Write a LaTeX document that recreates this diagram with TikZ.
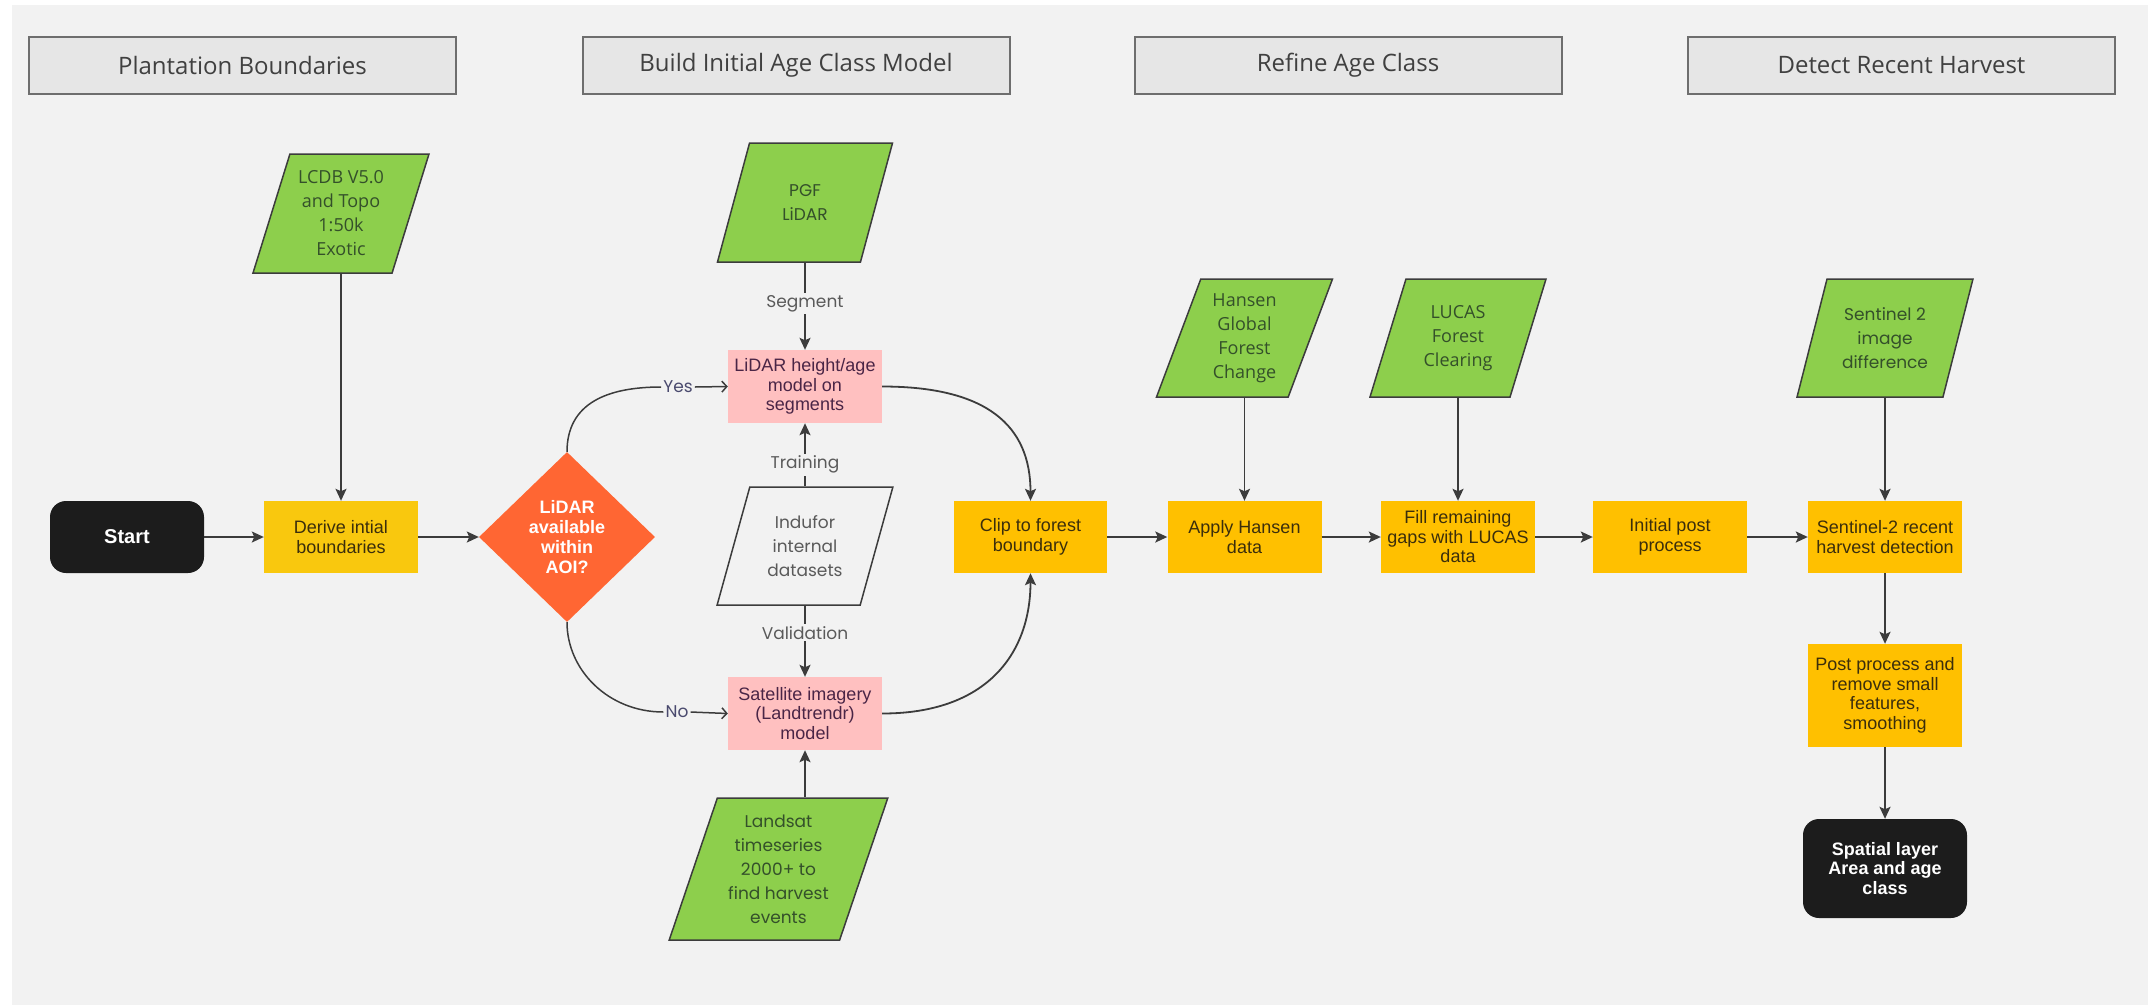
\documentclass[tikz,border=0pt]{standalone}
\usepackage{fontspec}
\setmainfont{Liberation Sans}
\newfontfamily\hdrfont{Open Sans}
\newfontfamily\datafont{Poppins}
\usepackage{tikz}
\usetikzlibrary{shapes.geometric,arrows.meta}
\definecolor{bggray}{HTML}{F2F2F2}
\definecolor{hdrfill}{HTML}{E6E6E6}
\definecolor{hdrline}{HTML}{6E6E6E}
\definecolor{hdrtext}{HTML}{404040}
\definecolor{procfill}{HTML}{FFC000}
\definecolor{derivefill}{HTML}{F9C80E}
\definecolor{proctext}{HTML}{3B2E0C}
\definecolor{modelfill}{HTML}{FFC0C0}
\definecolor{modeltext}{HTML}{4A2546}
\definecolor{datafill}{HTML}{8DCF4C}
\definecolor{datatext}{HTML}{34502A}
\definecolor{decidefill}{HTML}{FF6633}
\definecolor{termfill}{HTML}{1C1C1C}
\definecolor{linegray}{HTML}{3C3C3C}
\definecolor{lblgray}{HTML}{5A5A5A}
\definecolor{yntext}{HTML}{4A4A6E}

\begin{document}
\begin{tikzpicture}[x=1pt,y=-1pt,
	hdrbox/.style={draw=hdrline,line width=2pt,fill=hdrfill,minimum width=427pt,minimum height=57pt,text=hdrtext,font=\hdrfont\fontsize{24}{28}\selectfont},
	procbox/.style={fill=procfill,minimum width=154pt,minimum height=72pt,inner sep=0pt,align=center,text=proctext,font=\fontsize{18}{19.5}\selectfont},
	modelbox/.style={procbox,fill=modelfill,text=modeltext,minimum height=73pt},
	termbox/.style={fill=termfill,rounded corners=16pt,text=white,align=center,inner sep=0pt,font=\bfseries\fontsize{18}{19.5}\selectfont},
	databox/.style={trapezium,trapezium left angle=70,trapezium right angle=110,trapezium stretches=true,draw=linegray,line width=1.5pt,fill=datafill,inner sep=0pt,align=center,text=datatext,minimum width=176pt,minimum height=119pt,font=\hdrfont\fontsize{18}{24}\selectfont},
	databoxp/.style={databox,font=\datafont\fontsize{17}{24}\selectfont},
	decide/.style={diamond,fill=decidefill,text=white,align=center,inner sep=0pt,minimum width=176pt,minimum height=170pt,font=\bfseries\fontsize{18}{20}\selectfont},
	flow/.style={draw=linegray,line width=1.8pt,-{Stealth[length=12pt,width=11pt,inset=2.5pt]}},
	branch/.style={draw=linegray,line width=1.5pt},
	lbl/.style={fill=bggray,inner sep=2pt,text=lblgray,font=\datafont\fontsize{17}{20}\selectfont},
	yn/.style={lbl,text=yntext}]
	\useasboundingbox (0,0) rectangle (2148,1005);
	\fill[white] (0,0) rectangle (2148,1005);
	\fill[bggray] (12,5) rectangle (2148,1005);

	\node[hdrbox] (hdrplant) at (242.5,65.5) {Plantation Boundaries};
	\node[hdrbox] (hdrbuild) at (796,65.5) {Build Initial Age Class Model};
	\node[hdrbox] (hdrrefine) at (1348,65.5) {Refine Age Class};
	\node[hdrbox] (hdrdetect) at (1901.5,65.5) {Detect Recent Harvest};

	\node[termbox,minimum width=154pt,minimum height=72pt,font=\bfseries\fontsize{20}{22}\selectfont] (start) at (127,537) {Start};
	\node[procbox,fill=derivefill] (derive) at (341,537) {Derive intial\\boundaries};
	\node[databox] (lcdb) at (341,213.5) {LCDB V5.0\\and Topo\\1:50k\\Exotic};
	\node[decide] (lidarq) at (567,537) {LiDAR\\available\\within\\AOI?};
	\node[databoxp] (pgf) at (805,202.5) {PGF\\LiDAR};
	\node[modelbox] (lidarmod) at (805,386.5) {LiDAR height/age\\model on\\segments};
	\node[databoxp,fill=bggray,text=lblgray,minimum height=118pt] (indufor) at (805,546) {Indufor\\internal\\datasets};
	\node[modelbox] (satmod) at (805,713.5) {Satellite imagery\\(Landtrendr)\\model};
	\node[databoxp,minimum width=219pt,minimum height=142pt] (landsat) at (778.5,869) {Landsat\\timeseries\\2000+ to\\find harvest\\events};
	\node[procbox,minimum width=153pt] (clip) at (1030.5,537) {Clip to forest\\boundary};
	\node[databox,minimum height=118pt] (hansen) at (1244.5,338) {Hansen\\Global\\Forest\\Change};
	\node[procbox] (apply) at (1244.5,537) {Apply Hansen\\data};
	\node[databox,minimum height=118pt] (lucas) at (1458,338) {LUCAS\\Forest\\Clearing};
	\node[procbox] (fillgaps) at (1458,537) {Fill remaining\\gaps with LUCAS\\data};
	\node[procbox] (initpost) at (1670,537) {Initial post\\process};
	\node[databoxp,minimum height=118pt] (sentinel) at (1885,338) {Sentinel 2\\image\\difference};
	\node[procbox] (detect) at (1885,537) {Sentinel-2 recent\\harvest detection};
	\node[procbox,minimum height=103pt] (postproc) at (1885,695.5) {Post process and\\remove small\\features,\\smoothing};
	\node[termbox,minimum width=164pt,minimum height=99pt] (spatial) at (1885,868.5) {Spatial layer\\Area and age\\class};

	\draw[flow] (start) -- (derive);
	\draw[flow] (derive.north |- lcdb.south) -- (derive.north);
	\draw[flow] (derive) -- (lidarq);
	\node[yn] (yes) at (678,387) {Yes};
	\node[yn] (no) at (677,712) {No};
	\draw[branch] (lidarq.north) .. controls +(0,-48) and +(-55,0) .. (yes.west);
	\draw[branch,-{Straight Barb[length=5pt,width=11pt]}] (yes.east) -- (lidarmod.west);
	\draw[branch] (lidarq.south) .. controls +(0,48) and +(-55,0) .. (no.west);
	\draw[branch,-{Straight Barb[length=5pt,width=11pt]}] (no.east) -- (satmod.west);
	\draw[flow] (lidarmod.north |- pgf.south) -- node[lbl,pos=0.47] (seglbl) {Segment} (lidarmod.north);
	\draw[flow] (lidarmod.south |- indufor.north) -- node[lbl,pos=0.34] (trainlbl) {Training} (lidarmod.south);
	\draw[flow] (satmod.north |- indufor.south) -- node[lbl,pos=0.38] (vallbl) {Validation} (satmod.north);
	\draw[flow] (satmod.south |- landsat.north) -- (satmod.south);
	\draw[flow] (lidarmod.east) .. controls +(105,0) and +(0,-75) .. (clip.north);
	\draw[flow] (satmod.east) .. controls +(105,0) and +(0,80) .. (clip.south);
	\draw[flow] (clip) -- (apply);
	\draw[flow] (apply.north |- hansen.south) -- (apply.north);
	\draw[flow] (apply) -- (fillgaps);
	\draw[flow] (fillgaps.north |- lucas.south) -- (fillgaps.north);
	\draw[flow] (fillgaps) -- (initpost);
	\draw[flow] (initpost) -- (detect);
	\draw[flow] (detect.north |- sentinel.south) -- (detect.north);
	\draw[flow] (detect) -- (postproc);
	\draw[flow] (postproc) -- (spatial);
\end{tikzpicture}
\end{document}
